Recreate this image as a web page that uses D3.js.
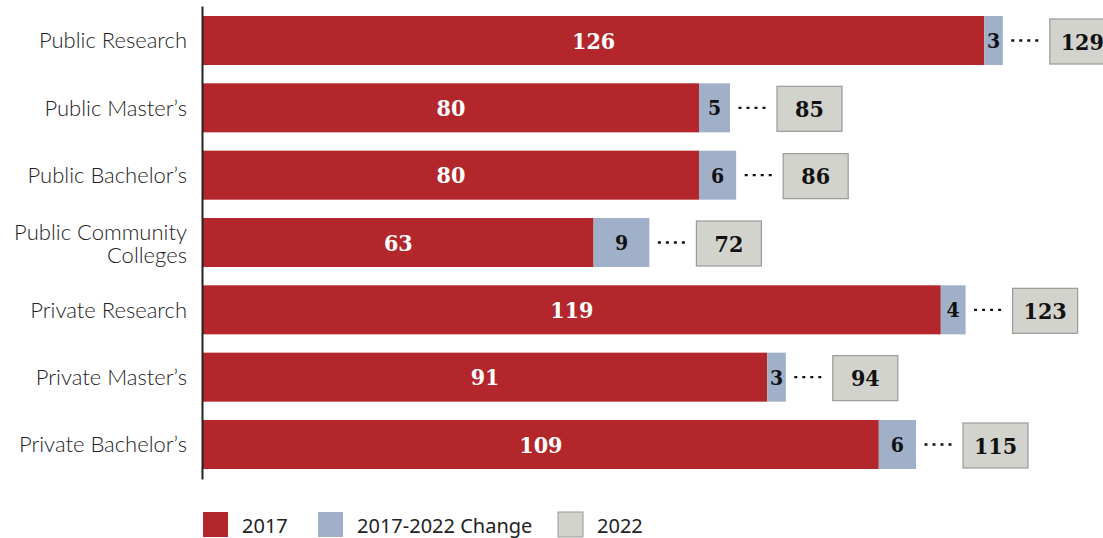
<!DOCTYPE html>
<html>
<head>
<meta charset="utf-8">
<script src="https://cdn.jsdelivr.net/npm/d3@7"></script>
<style>
  html, body { margin: 0; padding: 0; background: #fff; }
  svg { display: block; }
  .num { font-family: 'DejaVu Serif Condensed', 'DejaVu Serif', serif; font-stretch: condensed; font-weight: 700; }
</style>
</head>
<body>
<svg id="chart" width="1103" height="538"></svg>
<script>
// Institution sectors, top to bottom
const categories = [
  ["Public Research"],
  ["Public Master\u2019s"],
  ["Public Bachelor\u2019s"],
  ["Public Community", "Colleges"],
  ["Private Research"],
  ["Private Master\u2019s"],
  ["Private Bachelor\u2019s"]
];
const values2017 = [126, 80, 80, 63, 119, 91, 109];
const change2017to2022 = [3, 5, 6, 9, 4, 3, 6];
const values2022 = [129, 85, 86, 72, 123, 94, 115];
const legendLabels = ["2017", "2017-2022 Change", "2022"];

const colors = { base: "#b3262b", change: "#a0b0c9", total: "#d3d3ce", totalStroke: "#9a9a96" };

const svg = d3.select("#chart");
const rows = categories.map((c, i) => ({
  key: c.join(" "), lines: c, v17: values2017[i], dv: change2017to2022[i], v22: values2022[i]
}));

const x = d3.scaleLinear().domain([0, 140]).range([203, 1071]);
const y = d3.scaleBand().domain(rows.map(d => d.key)).range([6, 479])
  .paddingInner(0.272).paddingOuter(0.1485);
const bh = y.bandwidth();

// 2017 bars
svg.append("g").selectAll("rect").data(rows).join("rect")
  .attr("x", x(0)).attr("y", d => y(d.key))
  .attr("width", d => x(d.v17) - x(0)).attr("height", bh)
  .attr("fill", colors.base);

// change segments stacked after the 2017 bars
svg.append("g").selectAll("rect").data(rows).join("rect")
  .attr("x", d => x(d.v17)).attr("y", d => y(d.key))
  .attr("width", d => x(d.v17 + d.dv) - x(d.v17)).attr("height", bh)
  .attr("fill", colors.change);

// dotted leaders
svg.append("g").selectAll("line").data(rows).join("line")
  .attr("x1", d => x(d.v17 + d.dv) + 8.5).attr("x2", d => x(d.v17 + d.dv) + 35.5)
  .attr("y1", d => y(d.key) + bh / 2).attr("y2", d => y(d.key) + bh / 2)
  .attr("stroke", "#111").attr("stroke-width", 2.4).attr("stroke-dasharray", "3,5");

// 2022 total boxes
const boxW = 65, boxGap = 47;
svg.append("g").selectAll("rect").data(rows).join("rect")
  .attr("x", d => x(d.v22) + boxGap).attr("y", d => y(d.key) + 3)
  .attr("width", boxW).attr("height", bh - 4)
  .attr("fill", colors.total).attr("stroke", colors.totalStroke).attr("stroke-width", 1.2);

// value labels
svg.append("g").selectAll("text").data(rows).join("text")
  .attr("class", "num")
  .attr("x", d => (x(0) + x(d.v17)) / 2).attr("y", d => y(d.key) + bh / 2)
  .attr("dy", "0.36em").attr("text-anchor", "middle")
  .attr("fill", "#fff").attr("font-size", 23)
  .text(d => d.v17);

svg.append("g").selectAll("text").data(rows).join("text")
  .attr("class", "num")
  .attr("x", d => (x(d.v17) + x(d.v17 + d.dv)) / 2).attr("y", d => y(d.key) + bh / 2)
  .attr("dy", "0.36em").attr("text-anchor", "middle")
  .attr("fill", "#111").attr("font-size", 21)
  .text(d => d.dv);

svg.append("g").selectAll("text").data(rows).join("text")
  .attr("class", "num")
  .attr("x", d => x(d.v22) + boxGap + boxW / 2).attr("y", d => y(d.key) + 3 + (bh - 4) / 2)
  .attr("dy", "0.36em").attr("text-anchor", "middle")
  .attr("fill", "#111").attr("font-size", 23)
  .text(d => d.v22);

// category axis
const axis = svg.append("g").attr("transform", `translate(${x(0) - 1},0)`)
  .call(d3.axisLeft(y).tickSize(0).tickFormat(""));
axis.select(".domain").attr("stroke", "#222").attr("stroke-width", 2);

// category labels, one text per line so wrapped names stack cleanly
const lineH = 22.5;
const labelLines = rows.flatMap(d => d.lines.map((ln, j) => ({
  text: ln, cy: y(d.key) + bh / 2 + (d.lines.length > 1 ? 1.5 : 0) + (j - (d.lines.length - 1) / 2) * lineH
})));
svg.append("g").selectAll("text").data(labelLines).join("text")
  .attr("x", 187).attr("y", d => d.cy).attr("dy", "0.35em").attr("text-anchor", "end")
  .attr("fill", "#222").attr("font-family", "Lato, 'Noto Sans', sans-serif")
  .attr("font-weight", 300).attr("font-size", 22)
  .text(d => d.text);

// legend
const legendX = [203, 318, 558];
const lg = svg.append("g").selectAll("g").data(legendLabels).join("g")
  .attr("transform", (d, i) => `translate(${legendX[i]},512)`);
lg.append("rect").attr("width", 25).attr("height", 25)
  .attr("fill", (d, i) => [colors.base, colors.change, colors.total][i])
  .attr("stroke", (d, i) => i === 2 ? colors.totalStroke : "none");
lg.append("text").attr("x", 39).attr("y", 21)
  .attr("fill", "#222").attr("font-family", "'Noto Sans', sans-serif").attr("font-size", 20)
  .text(d => d);
</script>
</body>
</html>
